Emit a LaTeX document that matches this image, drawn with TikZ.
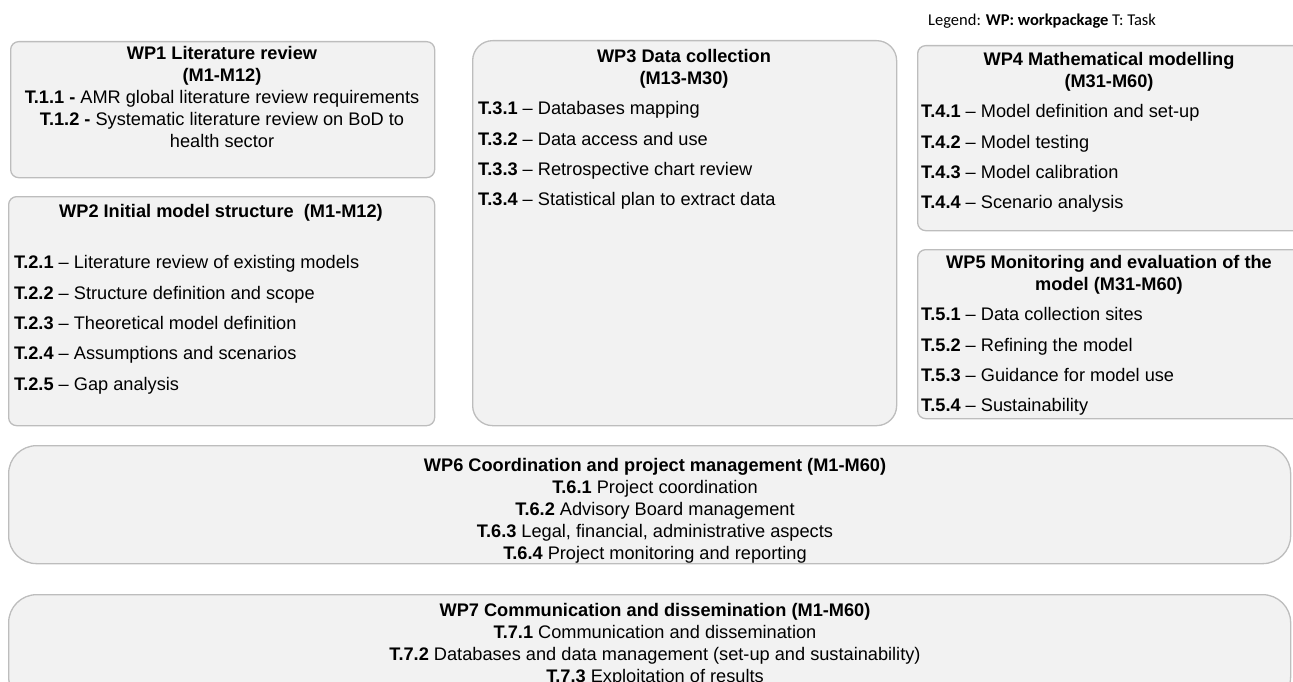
\documentclass[tikz,border=0pt]{standalone}
\usepackage{fontspec}
\setmainfont{Liberation Sans}
\newfontfamily\legendfont{Carlito}
\usepackage{tikz}
\usetikzlibrary{positioning}
\definecolor{boxfill}{HTML}{F2F2F2}
\definecolor{boxline}{HTML}{BDBDBD}

\begin{document}
\begin{tikzpicture}[x=1pt,y=-1pt,
  wp node/.style={draw=boxline,fill=boxfill,line width=1.3pt,anchor=north west,inner sep=0pt},
  head text/.style={anchor=north,align=center,inner sep=0pt,font=\fontsize{18.2}{22}\selectfont},
  task text/.style={anchor=north west,align=left,inner sep=0pt,font=\fontsize{18.2}{30.3}\selectfont}]

  \clip (0,0) rectangle (1293,682);

  \node[anchor=west,inner sep=0pt,font=\legendfont\fontsize{16.5}{19}\selectfont] (legend) at (928,21) {Legend: \textbf{WP: workpackage} T: Task};

  \node[wp node,rounded corners=8pt,minimum width=424pt,minimum height=136pt] (wp1) at (10,41) {};
  \node[wp node,rounded corners=8pt,minimum width=426pt,minimum height=229pt] (wp2) at (8,196) {};
  \node[wp node,rounded corners=20pt,minimum width=424pt,minimum height=385pt] (wp3) at (472,40) {};
  \node[wp node,rounded corners=8pt,minimum width=390pt,minimum height=185pt] (wp4) at (917,45) {};
  \node[wp node,rounded corners=8pt,minimum width=390pt,minimum height=169pt] (wp5) at (917,249) {};
  \node[wp node,rounded corners=28pt,minimum width=1282pt,minimum height=118pt] (wp6) at (8,445) {};
  \node[wp node,rounded corners=28pt,minimum width=1282pt,minimum height=110pt] (wp7) at (8,594) {};

  % workpackage 1
  \node[head text] (t1) at (222,46.5) {\textbf{WP1 Literature review}\\\textbf{(M1-M12)}\\
    \textbf{T.1.1 -} AMR global literature review requirements\\
    \textbf{T.1.2 -} Systematic literature review on BoD to\\health sector};

  % workpackage 2
  \node[head text] (h2) at (221,204.5) {\textbf{WP2 Initial model structure \ (M1-M12)}};
  \node[task text] (t2) at (14,255.5) {\textbf{T.2.1} -- Literature review of existing models\\
    \textbf{T.2.2} -- Structure definition and scope\\
    \textbf{T.2.3} -- Theoretical model definition\\
    \textbf{T.2.4} -- Assumptions and scenarios\\
    \textbf{T.2.5} -- Gap analysis};

  % workpackage 3
  \node[head text] (h3) at (684,49.5) {\textbf{WP3 Data collection}\\\textbf{(M13-M30)}};
  \node[task text] (t3) at (478,101.5) {\textbf{T.3.1} -- Databases mapping\\
    \textbf{T.3.2} -- Data access and use\\
    \textbf{T.3.3} -- Retrospective chart review\\
    \textbf{T.3.4} -- Statistical plan to extract data};

  % workpackage 4
  \node[head text] (h4) at (1109,52.5) {\textbf{WP4 Mathematical modelling}\\\textbf{(M31-M60)}};
  \node[task text] (t4) at (921,104.5) {\textbf{T.4.1} -- Model definition and set-up\\
    \textbf{T.4.2} -- Model testing\\
    \textbf{T.4.3} -- Model calibration\\
    \textbf{T.4.4} -- Scenario analysis};

  % workpackage 5
  \node[head text] (h5) at (1109,255.5) {\textbf{WP5 Monitoring and evaluation of the}\\\textbf{model (M31-M60)}};
  \node[task text] (t5) at (921,307.5) {\textbf{T.5.1} -- Data collection sites\\
    \textbf{T.5.2} -- Refining the model\\
    \textbf{T.5.3} -- Guidance for model use\\
    \textbf{T.5.4} -- Sustainability};

  % workpackage 6 and 7
  \node[head text] (t6) at (655,458.5) {\textbf{WP6 Coordination and project management (M1-M60)}\\
    \textbf{T.6.1} Project coordination\\
    \textbf{T.6.2} Advisory Board management\\
    \textbf{T.6.3} Legal, financial, administrative aspects\\
    \textbf{T.6.4} Project monitoring and reporting};
  \node[head text] (t7) at (655,603.5) {\textbf{WP7 Communication and dissemination (M1-M60)}\\
    \textbf{T.7.1} Communication and dissemination\\
    \textbf{T.7.2} Databases and data management (set-up and sustainability)\\
    \textbf{T.7.3} Exploitation of results};
\end{tikzpicture}
\end{document}
